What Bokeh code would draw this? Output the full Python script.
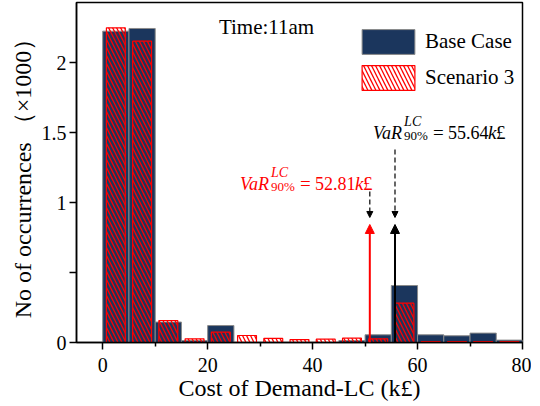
from bokeh.plotting import figure
from bokeh.models import (FixedTicker, Legend, LegendItem, Label, Arrow, NormalHead,
                          Range1d, ColumnDataSource)
from bokeh.embed import file_html
from bokeh.resources import INLINE

# ---- data (counts in thousands) ----
bin_centers = [2.5, 7.5, 12.5, 17.5, 22.5, 27.5, 32.5, 37.5, 42.5, 47.5,
               52.5, 57.5, 62.5, 67.5, 72.5, 77.5]
base_case = [2.224, 2.243, 0.146, 0.014, 0.121, 0.0, 0.0, 0.0, 0.0, 0.014,
             0.055, 0.407, 0.055, 0.048, 0.067, 0.017]
scenario3 = [2.248, 2.152, 0.157, 0.026, 0.074, 0.050, 0.029, 0.021, 0.024, 0.031,
             0.026, 0.281, 0.007, 0.007, 0.007, 0.007]
var_base_text = "55.64"
var_s3_text = "52.81"
var_base_x = 55.7
var_s3_x = 50.9
x_ticks = [0, 20, 40, 60, 80]
x_minor = [10, 30, 50, 70]
y_ticks = [0, 0.5, 1, 1.5, 2]
y_tick_labels = {0: "0", 0.5: "", 1: "1", 1.5: "1.5", 2: "2"}
x_title = "Cost of Demand-LC (k£)"
y_title = "No of occurrences （×1000）"

SERIF = "Liberation Serif"
NAVY = "#1b365d"

p = figure(frame_width=446, frame_height=340, output_backend="svg", toolbar_location=None,
           x_range=Range1d(-5, 80), y_range=Range1d(0, 2.4286),
           min_border_left=76, min_border_right=9, min_border_top=2, min_border_bottom=0)
p.xgrid.visible = False
p.ygrid.visible = False
p.outline_line_color = "black"
p.outline_line_width = 1.5
p.background_fill_color = "white"

src = ColumnDataSource(dict(x=bin_centers, base=base_case, s3=scenario3))
r_base = p.vbar(x="x", top="base", width=5, source=src, fill_color=NAVY,
                line_color="#8a8a8a", line_width=1)
r_s3 = p.vbar(x="x", top="s3", width=3.6, source=src, fill_alpha=0,
              line_color="red", line_width=1.2, hatch_pattern="\\",
              hatch_color="red", hatch_weight=1.3, hatch_scale=8)

# axes
p.xaxis.ticker = FixedTicker(ticks=x_ticks, minor_ticks=x_minor)
p.yaxis.ticker = FixedTicker(ticks=y_ticks, minor_ticks=[])
p.yaxis.major_label_overrides = y_tick_labels
for ax in (p.xaxis[0], p.yaxis[0]):
    ax.major_label_text_font = SERIF
    ax.major_label_text_font_style = "normal"
    ax.major_label_text_font_size = "20px"
    ax.major_label_text_color = "black"
    ax.axis_label_text_font = SERIF
    ax.axis_label_text_font_size = "24px"
    ax.axis_label_text_font_style = "normal"
    ax.axis_label_text_color = "black"
    ax.axis_line_color = "black"
    ax.axis_line_width = 1.5
    ax.major_tick_in = 0
    ax.major_tick_out = 7
    ax.major_tick_line_color = "black"
    ax.major_tick_line_width = 1.5
    ax.minor_tick_in = 0
    ax.minor_tick_out = 4
    ax.minor_tick_line_color = "black"
    ax.minor_tick_line_width = 1.5
p.xaxis.axis_label = x_title
p.yaxis.axis_label = y_title
p.xaxis.major_label_standoff = 8
p.xaxis.axis_label_standoff = 0
p.yaxis.major_label_standoff = 3
p.yaxis.axis_label_standoff = 3

# legend (bokeh insets area swatches by 10%)
legend = Legend(items=[LegendItem(label="Base Case", renderers=[r_base]),
                       LegendItem(label="Scenario 3", renderers=[r_s3])],
                location=(279, 249), padding=0, margin=0, spacing=5,
                glyph_width=66, glyph_height=31, label_height=31, label_standoff=4,
                label_text_font=SERIF, label_text_font_size="21px",
                label_text_color="black",
                border_line_alpha=0, background_fill_alpha=0)
p.add_layout(legend)

# title inside
p.add_layout(Label(x=(219 - 103) / 5.24, y=(343 - 27) / 140, text="Time:11am",
                   text_font=SERIF, text_font_size="21px", text_color="black",
                   text_baseline="alphabetic"))

# VaR lines with arrows
p.add_layout(Arrow(x_start=var_s3_x, y_start=0, x_end=var_s3_x, y_end=0.843,
                   line_color="red", line_width=2,
                   end=NormalHead(size=9, fill_color="red", line_color="red")))
p.add_layout(Arrow(x_start=var_base_x, y_start=0, x_end=var_base_x, y_end=0.843,
                   line_color="black", line_width=2,
                   end=NormalHead(size=9, fill_color="black", line_color="black")))
p.add_layout(Arrow(x_start=var_s3_x, y_start=1.079, x_end=var_s3_x, y_end=0.893,
                   line_color="black", line_width=1.2, line_dash="5 3",
                   end=NormalHead(size=6, fill_color="black", line_color="black")))
p.add_layout(Arrow(x_start=var_base_x, y_start=1.379, x_end=var_base_x, y_end=0.893,
                   line_color="black", line_width=1.2, line_dash="5 3",
                   end=NormalHead(size=6, fill_color="black", line_color="black")))


def var_label(x0, yb, num, color):
    pieces = [(0, 0, "VaR", "18px", "italic"),
              (31, 11, "LC", "14px", "italic"),
              (31, -2.5, "90%", "13px", "normal"),
              (60, 0, "=", "19px", "normal"),
              (75, 0, num, "18px", "normal"),
              (115, 0, "k", "19px", "italic"),
              (123, 0, "£", "19px", "normal")]
    for dx, dy, t, fs, st in pieces:
        p.add_layout(Label(x=x0, y=yb + dy / 140, x_offset=dx, text=t,
                           text_font=SERIF, text_font_size=fs, text_font_style=st,
                           text_color=color, text_baseline="alphabetic"))


var_label((240 - 103) / 5.24, (343 - 184) / 140, var_s3_text, "red")
var_label((373 - 103) / 5.24, (343 - 133) / 140, var_base_text, "black")

open("out.html", "w").write(file_html(p, INLINE))
